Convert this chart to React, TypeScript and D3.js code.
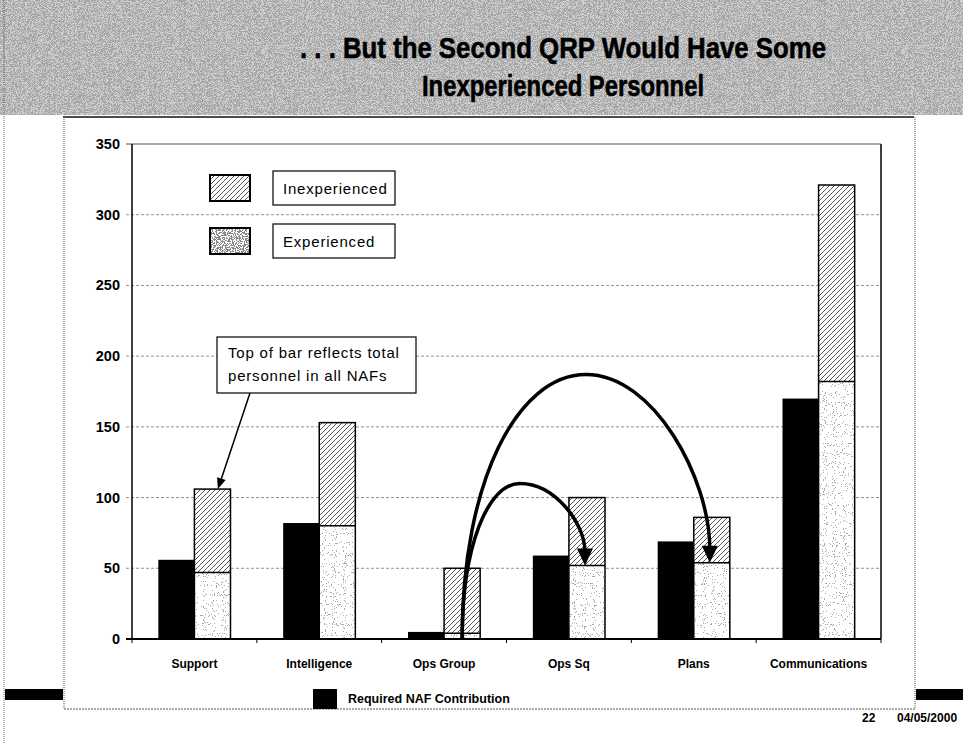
import React from "react";
import * as d3 from "d3";

const categories = ["Support", "Intelligence", "Ops Group", "Ops Sq", "Plans", "Communications"];
const required = [56, 82, 5, 59, 69, 170];
const experienced = [47, 80, 4, 52, 54, 182];
const inexperienced = [59, 73, 46, 48, 32, 139];
const yTicks = [0, 50, 100, 150, 200, 250, 300, 350];
const titleLines = [". . . But the Second QRP Would Have Some", "Inexperienced Personnel"];
const legendLabels = ["Inexperienced", "Experienced"];
const calloutLines = ["Top of bar reflects total", "personnel in all NAFs"];
// curved transfer arrows: from category -> to category; peak height (data units) and peak position (fraction of span)
const transfers = [
  { from: "Ops Group", to: "Ops Sq", peak: 110, at: 0.47 },
  { from: "Ops Group", to: "Plans", peak: 187, at: 0.5 },
];
const bottomLegend = "Required NAF Contribution";
const pageNo = "22";
const pageDate = "04/05/2000";

const W = 963;
const H = 743;
const M = { left: 132, right: 881, top: 144, bottom: 639 };
const FONT = "'Liberation Sans', Arial, Helvetica, sans-serif";

export default function App() {
  const x = d3.scaleBand<string>().domain(categories).range([M.left, M.right]);
  const y = d3.scaleLinear().domain([0, 350]).range([M.bottom, M.top]);
  const step = x.step();
  const bw = step * 0.289;
  const center = (c: string) => (x(c) as number) + step / 2;

  const arrowPaths = transfers.map((t, i) => {
    const ti = categories.indexOf(t.to);
    const sx = center(t.from) + bw / 2;
    const sy = y(0);
    const ex = center(t.to) + bw / 2 - 2;
    const tipY = y(experienced[ti]);
    const ey = tipY - 14;
    const px = sx + t.at * (ex - sx);
    const py = y(t.peak);
    const k1 = 0.6, k2 = 0.55;
    const p = d3.path();
    p.moveTo(sx, sy);
    p.bezierCurveTo(sx, sy - k1 * (sy - py), px - k2 * (px - sx), py, px, py);
    p.bezierCurveTo(px + k2 * (ex - px), py, ex, py + k1 * (ey - py), ex, ey);
    return { d: p.toString(), ex, tipY, key: i };
  });

  const supTotal = experienced[0] + inexperienced[0];
  const calloutTipX = center(categories[0]) + bw * 0.65;
  const calloutTipY = y(supTotal);
  const box = { x: 217, y: 337, w: 199, h: 56 };
  const cStartX = box.x + 33;
  const cStartY = box.y + box.h;
  const ang = Math.atan2(calloutTipY - cStartY, calloutTipX - cStartX);
  const ah = 11, aw = 4.5;
  const bx = calloutTipX - ah * Math.cos(ang);
  const by = calloutTipY - ah * Math.sin(ang);
  const calloutHead = `M${calloutTipX},${calloutTipY} L${bx + aw * Math.sin(ang)},${by - aw * Math.cos(ang)} L${bx - aw * Math.sin(ang)},${by + aw * Math.cos(ang)} Z`;

  return (
    <svg width={W} height={H} style={{ position: "absolute", left: 0, top: 0, background: "#fff" }} fontFamily={FONT}>
      <defs>
        <filter id="hdrNoise" x="0" y="0" width="1" height="1">
          <feTurbulence type="fractalNoise" baseFrequency="1.2" numOctaves="1" seed="7" result="n" />
          <feColorMatrix in="n" type="matrix" values="0 0 0 0 0.38  0 0 0 0 0.38  0 0 0 0 0.38  1 0 0 0 0" result="a" />
          <feComponentTransfer in="a" result="b">
            <feFuncA type="discrete" tableValues="0 0 0 0 0 0 0 0 0 0 1 1 1 1 1 1 1 1 1 1" />
          </feComponentTransfer>
          <feFlood floodColor="#cdcdcd" result="w" />
          <feMerge>
            <feMergeNode in="w" />
            <feMergeNode in="b" />
          </feMerge>
        </filter>
        <filter id="stipLight" x="0" y="0" width="1" height="1">
          <feTurbulence type="fractalNoise" baseFrequency="0.9" numOctaves="1" seed="3" result="n" />
          <feColorMatrix in="n" type="matrix" values="0 0 0 0 0.4  0 0 0 0 0.4  0 0 0 0 0.4  1 0 0 0 0" result="a" />
          <feComponentTransfer in="a" result="b">
            <feFuncA type="discrete" tableValues="0 0 0 0 0 0 0 0 0 0 0 0 0 1 1 1 1 1 1 1" />
          </feComponentTransfer>
          <feComposite in="b" in2="SourceAlpha" operator="in" result="c" />
          <feMerge>
            <feMergeNode in="SourceGraphic" />
            <feMergeNode in="c" />
          </feMerge>
        </filter>
        <filter id="stipDark" x="0" y="0" width="1" height="1">
          <feTurbulence type="fractalNoise" baseFrequency="0.9" numOctaves="1" seed="5" result="n" />
          <feColorMatrix in="n" type="matrix" values="0 0 0 0 0.25  0 0 0 0 0.25  0 0 0 0 0.25  1 0 0 0 0" result="a" />
          <feComponentTransfer in="a" result="b">
            <feFuncA type="discrete" tableValues="0 0 0 0 0 0 0 0 0 0 1 1 1 1 1 1 1 1 1 1" />
          </feComponentTransfer>
          <feComposite in="b" in2="SourceAlpha" operator="in" result="c" />
          <feMerge>
            <feMergeNode in="SourceGraphic" />
            <feMergeNode in="c" />
          </feMerge>
        </filter>
        <pattern id="hatch" patternUnits="userSpaceOnUse" width="5" height="5">
          <rect width="5" height="5" fill="#fff" />
          <path d="M-1,1 L1,-1 M0,5 L5,0 M4,6 L6,4" stroke="#444" strokeWidth="0.9" />
        </pattern>
      </defs>

      {/* header */}
      <rect x={0} y={0} width={W} height={115} fill="#ccc" filter="url(#hdrNoise)" />
      <line x1={4} y1={0} x2={4} y2={H} stroke="#666" strokeWidth={1} strokeDasharray="1 1" />
      {titleLines.map((t, i) => (
        <text
          key={t}
          x={563}
          y={58 + i * 38}
          textAnchor="middle"
          fontWeight="bold"
          fontSize={30}
          fill="#000"
          stroke="#000"
          strokeWidth={0.6}
          textLength={i === 0 ? 526 : 282}
          lengthAdjust="spacingAndGlyphs"
        >
          {t}
        </text>
      ))}

      {/* frame */}
      <line x1={63} y1={117} x2={914} y2={117} stroke="#111" strokeWidth={1.5} />
      <line x1={64} y1={117} x2={64} y2={709} stroke="#555" strokeWidth={1} strokeDasharray="1 1" />
      <line x1={915} y1={117} x2={915} y2={709} stroke="#555" strokeWidth={1} strokeDasharray="1 1" />
      <line x1={64} y1={709} x2={915} y2={709} stroke="#555" strokeWidth={1} strokeDasharray="2 1" />
      <rect x={5} y={689} width={58} height={11} fill="#000" />
      <rect x={916} y={689} width={47} height={11} fill="#000" />

      {/* gridlines */}
      {yTicks.filter((v) => v > 0 && v < 350).map((v) => (
        <line key={v} x1={M.left - 6} x2={M.right} y1={y(v)} y2={y(v)} stroke="#777" strokeWidth={0.8} strokeDasharray="3 2" />
      ))}
      <line x1={M.left - 6} x2={M.right} y1={y(350)} y2={y(350)} stroke="#555" strokeWidth={1} />
      {yTicks.map((v) => (
        <text key={v} x={120} y={y(v) + 5} textAnchor="end" fontSize={14.5} fontWeight="bold">
          {v}
        </text>
      ))}

      {/* bars */}
      {categories.map((c, i) => {
        const cx = center(c);
        const eTop = y(experienced[i]);
        const tTop = y(experienced[i] + inexperienced[i]);
        return (
          <g key={c}>
            <rect x={cx - bw} y={y(required[i])} width={bw} height={y(0) - y(required[i])} fill="#000" />
            <rect x={cx} y={eTop} width={bw} height={y(0) - eTop} fill="#fff" filter="url(#stipLight)" />
            <rect x={cx} y={tTop} width={bw} height={eTop - tTop} fill="url(#hatch)" />
            <rect x={cx} y={tTop} width={bw} height={y(0) - tTop} fill="none" stroke="#000" strokeWidth={1.5} />
            <line x1={cx} x2={cx + bw} y1={eTop} y2={eTop} stroke="#000" strokeWidth={1.5} />
          </g>
        );
      })}

      {/* axes */}
      <line x1={M.left} x2={M.left} y1={M.top} y2={M.bottom} stroke="#000" strokeWidth={1.5} />
      <line x1={M.right} x2={M.right} y1={M.top} y2={M.bottom} stroke="#000" strokeWidth={1.5} />
      <line x1={M.left - 6} x2={M.right} y1={M.bottom} y2={M.bottom} stroke="#000" strokeWidth={2} />
      {categories.map((c) => (
        <line key={c} x1={x(c) as number} x2={x(c) as number} y1={M.bottom} y2={M.bottom + 4} stroke="#000" strokeWidth={1} />
      ))}
      <line x1={M.right} x2={M.right} y1={M.bottom} y2={M.bottom + 4} stroke="#000" strokeWidth={1} />
      {categories.map((c) => (
        <text key={c} x={center(c)} y={668} textAnchor="middle" fontSize={12} fontWeight="bold">
          {c}
        </text>
      ))}

      {/* legend */}
      {legendLabels.map((l, i) => (
        <g key={l}>
          <rect
            x={210}
            y={175 + i * 53}
            width={40}
            height={26}
            fill={i === 0 ? "url(#hatch)" : "#fff"}
            filter={i === 1 ? "url(#stipDark)" : undefined}
          />
          <rect x={210} y={175 + i * 53} width={40} height={26} fill="none" stroke="#000" strokeWidth={2} />
          <rect x={273} y={171 + i * 53} width={122} height={34} fill="#fff" stroke="#000" strokeWidth={1.2} />
          <text x={283} y={194 + i * 53} fontSize={15} letterSpacing={0.8}>
            {l}
          </text>
        </g>
      ))}

      {/* callout */}
      <rect x={box.x} y={box.y} width={box.w} height={box.h} fill="#fff" stroke="#000" strokeWidth={1.2} />
      {calloutLines.map((t, i) => (
        <text key={t} x={box.x + 11} y={box.y + 21 + i * 23} fontSize={15} letterSpacing={0.8}>
          {t}
        </text>
      ))}
      <line x1={cStartX} y1={cStartY} x2={bx} y2={by} stroke="#000" strokeWidth={1.5} />
      <path d={calloutHead} fill="#000" />

      {/* transfer arrows */}
      {arrowPaths.map((a) => (
        <g key={a.key}>
          <path d={a.d} fill="none" stroke="#000" strokeWidth={3.5} />
          <path d={`M${a.ex},${a.tipY} L${a.ex - 8},${a.tipY - 17} L${a.ex + 8},${a.tipY - 17} Z`} fill="#000" />
        </g>
      ))}

      {/* bottom legend & footer */}
      <rect x={313} y={689} width={24} height={20} fill="#000" />
      <text x={348} y={703} fontSize={12.5} fontWeight="bold">
        {bottomLegend}
      </text>
      <text x={862} y={722} fontSize={12} fontWeight="bold">
        {pageNo}
      </text>
      <text x={897} y={722} fontSize={12} fontWeight="bold">
        {pageDate}
      </text>
    </svg>
  );
}
